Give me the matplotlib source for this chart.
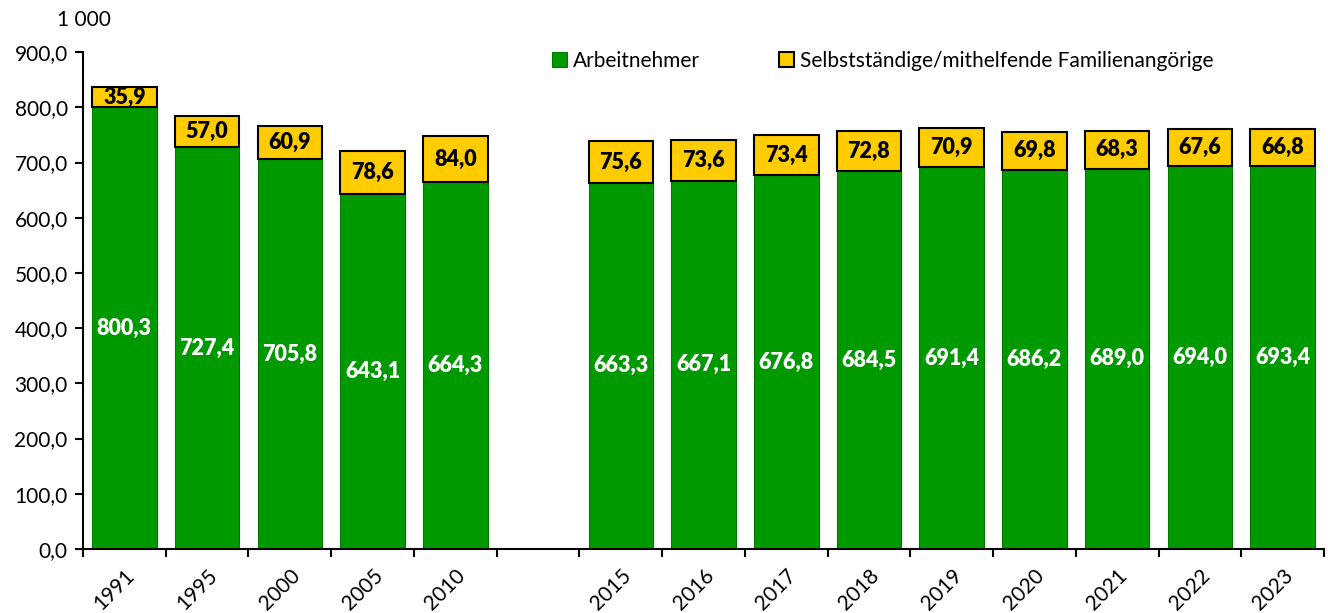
import numpy as np
import matplotlib.pyplot as plt

plt.rcParams['font.family'] = ['Lato', 'DejaVu Sans']

years = ["1991", "1995", "2000", "2005", "2010", "", "2015", "2016", "2017",
         "2018", "2019", "2020", "2021", "2022", "2023"]
arbeitnehmer = [800.3, 727.4, 705.8, 643.1, 664.3, np.nan, 663.3, 667.1, 676.8,
                684.5, 691.4, 686.2, 689.0, 694.0, 693.4]
selbst = [35.9, 57.0, 60.9, 78.6, 84.0, np.nan, 75.6, 73.6, 73.4,
          72.8, 70.9, 69.8, 68.3, 67.6, 66.8]

green = "#009900"
yellow = "#FFCC00"


def fmt(v):
    return f"{v:.1f}".replace(".", ",")


fig = plt.figure(figsize=(13.28, 6.13), dpi=100)
ax = fig.add_axes([0.0625, 0.1044, 0.9345, 0.8106])

x = np.arange(len(years))
a = np.array(arbeitnehmer)
s = np.array(selbst)
mask = ~np.isnan(a)

ax.bar(x[mask], a[mask], width=0.78, color=green, edgecolor="#007a00",
       linewidth=0.8, label="Arbeitnehmer")
ax.bar(x[mask], s[mask], width=0.78, bottom=a[mask], color=yellow,
       edgecolor="black", linewidth=1.5,
       label="Selbstständige/mithelfende Familienangörige")

for xi, ai, si in zip(x[mask], a[mask], s[mask]):
    ax.text(xi, ai / 2, fmt(ai), ha="center", va="center", color="white",
            fontsize=15.5, fontweight="heavy")
    ax.text(xi, ai + si / 2, fmt(si), ha="center", va="center", color="black",
            fontsize=15.5, fontweight="heavy")

ax.set_xlim(-0.5, len(years) - 0.5)
ax.set_ylim(0, 900)
ax.set_yticks(np.arange(0, 901, 100))
ax.set_yticklabels([fmt(v) for v in np.arange(0, 901, 100)], fontsize=15)

ax.set_xticks(np.arange(-0.5, len(years)))
ax.set_xticklabels([])
ax.set_xticks(x, minor=True)
ax.set_xticklabels(years, minor=True, rotation=45, ha="right",
                   rotation_mode="anchor", fontsize=15)
ax.tick_params(axis="x", which="minor", length=0, pad=12)
ax.tick_params(axis="x", which="major", length=6, width=1.5, direction="out")
ax.tick_params(axis="y", length=6, width=1.5, direction="out", pad=5)

for side in ["top", "right"]:
    ax.spines[side].set_visible(False)
for side in ["left", "bottom"]:
    ax.spines[side].set_linewidth(1.5)

fig.text(0.043, 0.967, "1 000", ha="left", va="center", fontsize=15)

ax.legend(loc="upper left", bbox_to_anchor=(0.363, 1.04), ncol=2, frameon=False,
          fontsize=15, handlelength=0.7, handleheight=0.7, handletextpad=0.3,
          columnspacing=3.8)

fig.savefig("out.png", dpi=100)
